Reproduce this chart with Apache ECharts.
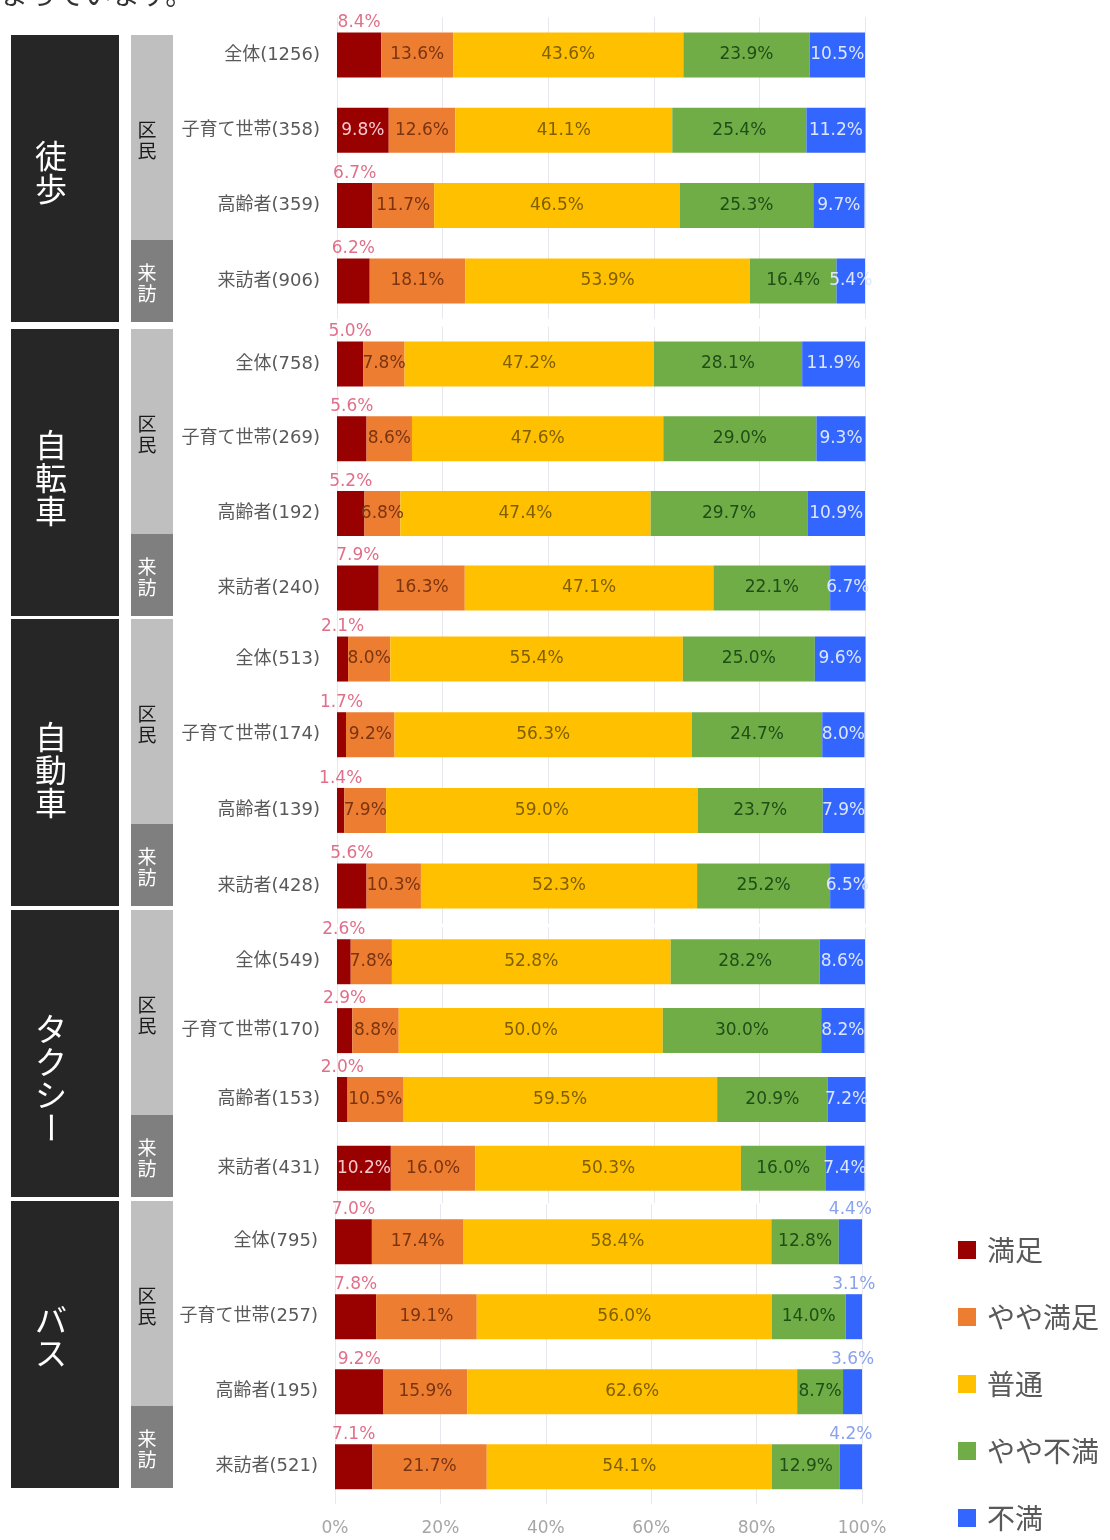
<!DOCTYPE html>
<html><head><meta charset="utf-8">
<script src="https://cdn.jsdelivr.net/npm/echarts@6/dist/echarts.min.js"></script>
<style>html,body{margin:0;padding:0;background:#fff}#c{width:1110px;height:1540px}</style>
</head><body><div id="c"></div>
<script>
// ---- data ----
const groupNames = ['徒歩','自転車','自動車','タクシー','バス'];
const subGroupNames = ['区民','来訪'];
const rowLabels = [
  ['全体(1256)','子育て世帯(358)','高齢者(359)','来訪者(906)'],
  ['全体(758)','子育て世帯(269)','高齢者(192)','来訪者(240)'],
  ['全体(513)','子育て世帯(174)','高齢者(139)','来訪者(428)'],
  ['全体(549)','子育て世帯(170)','高齢者(153)','来訪者(431)'],
  ['全体(795)','子育て世帯(257)','高齢者(195)','来訪者(521)']
];
const seriesNames = ['満足','やや満足','普通','やや不満','不満'];
const manzoku     = [8.4,9.8,6.7,6.2,  5.0,5.6,5.2,7.9,  2.1,1.7,1.4,5.6,  2.6,2.9,2.0,10.2,  7.0,7.8,9.2,7.1];
const yayaManzoku = [13.6,12.6,11.7,18.1, 7.8,8.6,6.8,16.3, 8.0,9.2,7.9,10.3, 7.8,8.8,10.5,16.0, 17.4,19.1,15.9,21.7];
const futsu       = [43.6,41.1,46.5,53.9, 47.2,47.6,47.4,47.1, 55.4,56.3,59.0,52.3, 52.8,50.0,59.5,50.3, 58.4,56.0,62.6,54.1];
const yayaFuman   = [23.9,25.4,25.3,16.4, 28.1,29.0,29.7,22.1, 25.0,24.7,23.7,25.2, 28.2,30.0,20.9,16.0, 12.8,14.0,8.7,12.9];
const fuman       = [10.5,11.2,9.7,5.4, 11.9,9.3,10.9,6.7, 9.6,8.0,7.9,6.5, 8.6,8.2,7.2,7.4, 4.4,3.1,3.6,4.2];
const xTicks = [0,20,40,60,80,100];
const topText = 'まっています。';

// ---- styles / layout ----
const values = [manzoku, yayaManzoku, futsu, yayaFuman, fuman];
const colors = ['#990000','#ed7d31','#ffc000','#70ad47','#3366ff'];
const insideColors = ['#f7c9cf','#7a3410','#7f5f00','#1f4e16','#dce6ff'];
const topColors = ['#e0708a','#e0708a','#7f5f00','#1f4e16','#8aa2ee'];
const aboveRule = [v => v < 9.5, () => false, () => false, () => false, v => v < 5];
const gridLayout = [
  {top: 17.3,  height: 301.3, left: 337, width: 528},
  {top: 326.7, height: 298.7, left: 337, width: 528},
  {top: 621.2, height: 302.7, left: 337, width: 528},
  {top: 927.3, height: 275.5, left: 337, width: 528},
  {top: 1204.2,height: 300,   left: 335, width: 527}
];
const boxLayout = [
  {top: 35,   bottom: 322,  split: 240,  textY: 172},
  {top: 329,  bottom: 616,  split: 534,  textY: 478},
  {top: 619,  bottom: 906,  split: 824,  textY: 770},
  {top: 910,  bottom: 1197, split: 1115, textY: 1078},
  {top: 1201, bottom: 1488, split: 1406, textY: 1336}
];
const LATIN = '"DejaVu Sans","Noto Sans CJK JP",sans-serif';
const CJK = '"Noto Sans CJK JP",sans-serif';

const grids = [], xAxes = [], yAxes = [], series = [];
gridLayout.forEach((g, gi) => {
  grids.push({left: g.left, width: g.width, top: g.top, height: g.height, containLabel: false});
  xAxes.push({
    type: 'value', gridIndex: gi, min: xTicks[0], max: xTicks[xTicks.length-1],
    interval: xTicks[1] - xTicks[0],
    axisLine: {show: false}, axisTick: {show: false},
    splitLine: {show: true, lineStyle: {color: '#e6e7ef', width: 1}},
    axisLabel: {show: gi === gridLayout.length - 1, formatter: '{value}%', fontSize: 17,
      color: '#a6a6a6', margin: 16, fontFamily: LATIN}
  });
  yAxes.push({
    type: 'category', gridIndex: gi, inverse: true, data: rowLabels[gi],
    axisLine: {show: false}, axisTick: {show: false}, splitLine: {show: false},
    axisLabel: {fontSize: 18, color: '#595959', margin: 17, fontFamily: LATIN}
  });
  seriesNames.forEach((name, si) => {
    const vals = values[si].slice(gi * 4, gi * 4 + 4);
    series.push({
      type: 'bar', name: name, stack: 'g' + gi, xAxisIndex: gi, yAxisIndex: gi,
      barWidth: 45, itemStyle: {color: colors[si]}, clip: false,
      label: {show: true, position: 'inside', fontSize: 17, fontFamily: LATIN,
        color: insideColors[si], formatter: p => p.value.toFixed(1) + '%'},
      data: vals.map(v => aboveRule[si](v)
        ? {value: v, label: {position: 'top', distance: 1, color: topColors[si]}}
        : {value: v})
    });
  });
});

// ---- side boxes ----
const graphic = [];
graphic.push({type: 'text', left: 0, top: -20,
  style: {text: topText, fontSize: 28, fontFamily: CJK, fill: '#333'}});
boxLayout.forEach((b, gi) => {
  graphic.push({type: 'rect', shape: {x: 11, y: b.top, width: 108, height: b.bottom - b.top},
    style: {fill: '#262626'}});
  graphic.push({type: 'rect', shape: {x: 131, y: b.top, width: 42, height: b.split - b.top},
    style: {fill: '#bfbfbf'}});
  graphic.push({type: 'rect', shape: {x: 131, y: b.split, width: 42, height: b.bottom - b.split},
    style: {fill: '#7f7f7f'}});
  const chars = Array.from(groupNames[gi]);
  const step = 33;
  const y0 = b.textY - (chars.length - 1) * step / 2;
  chars.forEach((ch, ci) => {
    graphic.push({type: 'text', x: 51, y: y0 + ci * step,
      rotation: ch === 'ー' ? -Math.PI / 2 : 0,
      style: {text: ch, fontSize: 32, fontFamily: CJK, fill: '#ffffff',
        align: 'center', verticalAlign: 'middle'}});
  });
  const sub1 = Array.from(subGroupNames[0]);
  const c1 = (b.top + b.split) / 2 + 3;
  sub1.forEach((ch, ci) => {
    graphic.push({type: 'text', x: 147, y: c1 + (ci - 0.5) * 21,
      style: {text: ch, fontSize: 19, fontFamily: CJK, fill: '#1a1a1a', align: 'center', verticalAlign: 'middle'}});
  });
  const sub2 = Array.from(subGroupNames[1]);
  const c2 = (b.split + b.bottom) / 2 + 2;
  sub2.forEach((ch, ci) => {
    graphic.push({type: 'text', x: 147, y: c2 + (ci - 0.5) * 21,
      style: {text: ch, fontSize: 19, fontFamily: CJK, fill: '#ffffff', align: 'center', verticalAlign: 'middle'}});
  });
});

const chart = echarts.init(document.getElementById('c'), null, {renderer: 'canvas'});
chart.setOption({
  animation: false,
  backgroundColor: '#ffffff',
  grid: grids, xAxis: xAxes, yAxis: yAxes, series: series,
  legend: {
    data: seriesNames, orient: 'vertical', left: 958, top: 1235, padding: 0,
    icon: 'rect', itemWidth: 18, itemHeight: 18, itemGap: 37,
    textStyle: {fontSize: 28, color: '#595959', fontFamily: CJK, lineHeight: 30, padding: [0,0,0,6]}
  },
  graphic: graphic
});
</script>
</body></html>
